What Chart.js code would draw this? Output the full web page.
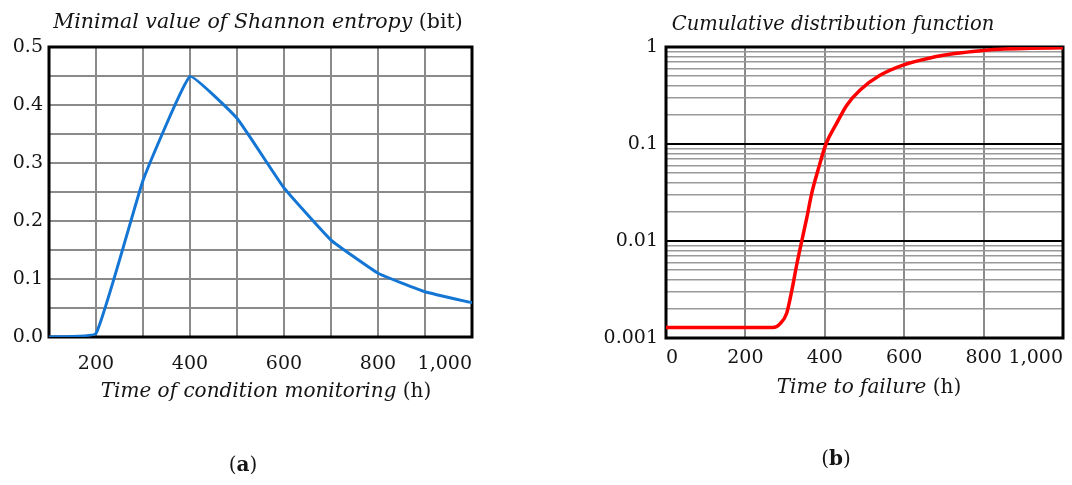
<!DOCTYPE html>
<html>
<head>
<meta charset="utf-8">
<script src="https://cdn.jsdelivr.net/npm/chart.js@4.4.1/dist/chart.umd.min.js"></script>
<style>
  html, body { margin: 0; padding: 0; background: #fff; }
  .panel { position: absolute; left: 0; top: 0; width: 1072px; height: 485px; }
</style>
</head>
<body>
<div class="panel"><canvas id="entropy" width="1072" height="485"></canvas></div>
<div class="panel"><canvas id="cdf" width="1072" height="485"></canvas></div>
<script>
// (a) minimal Shannon entropy vs. monitoring time
const monitoringHours = [100, 200, 300, 400, 500, 600, 700, 800, 900, 1000];
const minEntropy = [0.0, 0.006, 0.27, 0.449, 0.377, 0.257, 0.167, 0.11, 0.078, 0.059];

// (b) cumulative distribution function of time to failure
const failureHours = [0, 100, 200, 270, 287, 304, 317, 330, 342, 355, 367, 383, 403, 430, 455, 489, 539, 597, 665, 723, 773, 841, 920, 1000];
const cdfValues = [0.00128, 0.00128, 0.00128, 0.00128, 0.0014, 0.0018, 0.0031, 0.0059, 0.01, 0.0176, 0.031, 0.054, 0.1, 0.164, 0.25, 0.36, 0.51, 0.65, 0.77, 0.85, 0.9, 0.95, 0.97, 0.98];
const logTickValues = [0.001, 0.01, 0.1].flatMap(d => [1, 2, 3, 4, 5, 6, 7, 8, 9].map(m => +(m * d).toPrecision(2))).concat([1]);

const FONT = '"DejaVu Serif", "Liberation Serif", serif';
const INK = '#141414';
const GRID = '#8a8a8a';

// draws the framed plot box and titles that mix italic and upright runs
const decorations = {
  id: 'decorations',
  beforeDatasetsDraw(chart) {
    const { ctx, chartArea: a } = chart;
    ctx.save();
    ctx.strokeStyle = '#000';
    ctx.lineWidth = 3;
    ctx.strokeRect(a.left, a.top, a.right - a.left, a.bottom - a.top);
    ctx.restore();
  },
  afterDraw(chart, args, opts) {
    const ctx = chart.ctx;
    ctx.save();
    ctx.fillStyle = INK;
    ctx.textBaseline = 'middle';
    ctx.textAlign = 'left';
    for (const item of opts.items || []) {
      const fonts = item.parts.map(p => `${p.italic ? 'italic ' : ''}${p.bold ? 'bold ' : ''}${item.size}px ${FONT}`);
      const widths = item.parts.map((p, i) => { ctx.font = fonts[i]; return ctx.measureText(p.text).width; });
      let x = item.x - widths.reduce((s, w) => s + w, 0) / 2;
      item.parts.forEach((p, i) => {
        ctx.font = fonts[i];
        ctx.fillText(p.text, x, item.y);
        x += widths[i];
      });
    }
    ctx.restore();
  }
};

const isDecade = v => Math.abs(Math.log10(v) - Math.round(Math.log10(v))) < 1e-6;

new Chart(document.getElementById('entropy'), {
  type: 'line',
  data: {
    datasets: [{
      data: monitoringHours.map((h, i) => ({ x: h, y: minEntropy[i] })),
      borderColor: '#1476d4',
      borderWidth: 3,
      pointRadius: 0,
      tension: 0.1,
      fill: false,
    }],
  },
  options: {
    responsive: false,
    animation: false,
    events: [],
    layout: { padding: { left: 0, top: 47, right: 600, bottom: 108 } },
    plugins: {
      legend: { display: false },
      tooltip: { enabled: false },
      decorations: {
        items: [
          { x: 258, y: 23, size: 20.5, parts: [{ text: 'Minimal value of Shannon entropy', italic: true }, { text: ' (bit)' }] },
          { x: 266, y: 392, size: 20, parts: [{ text: 'Time of condition monitoring', italic: true }, { text: ' (h)' }] },
          { x: 243, y: 466, size: 20, parts: [{ text: '(' }, { text: 'a', bold: true }, { text: ')' }] },
        ],
      },
    },
    scales: {
      x: {
        type: 'linear',
        min: 100,
        max: 1000,
        afterFit: s => { s.height = 40; },
        grid: { color: GRID, lineWidth: 2, drawTicks: false },
        border: { display: false },
        ticks: {
          stepSize: 100,
          padding: 16,
          align: 'inner',
          maxRotation: 0,
          autoSkip: false,
          color: INK,
          font: { family: FONT, size: 19 },
          callback: v => (v % 200 === 0 ? v.toLocaleString('en-US') : ''),
        },
      },
      y: {
        min: 0,
        max: 0.5,
        afterFit: s => { s.width = 49; },
        grid: { color: GRID, lineWidth: 2, drawTicks: false },
        border: { display: false },
        ticks: {
          stepSize: 0.05,
          padding: 6,
          autoSkip: false,
          color: INK,
          font: { family: FONT, size: 19 },
          callback: (v, i) => (i % 2 === 0 ? v.toFixed(1) : ''),
        },
      },
    },
  },
  plugins: [decorations],
});

new Chart(document.getElementById('cdf'), {
  type: 'line',
  data: {
    datasets: [{
      data: failureHours.map((h, i) => ({ x: h, y: cdfValues[i] })),
      borderColor: '#ff0000',
      borderWidth: 3.5,
      pointRadius: 0,
      cubicInterpolationMode: 'monotone',
      fill: false,
    }],
  },
  options: {
    responsive: false,
    animation: false,
    events: [],
    layout: { padding: { left: 566, top: 47, right: 9, bottom: 107 } },
    plugins: {
      legend: { display: false },
      tooltip: { enabled: false },
      decorations: {
        items: [
          { x: 833, y: 25, size: 19.5, parts: [{ text: 'Cumulative distribution function', italic: true }] },
          { x: 869, y: 388, size: 20, parts: [{ text: 'Time to failure', italic: true }, { text: ' (h)' }] },
          { x: 836, y: 460, size: 20, parts: [{ text: '(' }, { text: 'b', bold: true }, { text: ')' }] },
        ],
      },
    },
    scales: {
      x: {
        type: 'linear',
        min: 0,
        max: 1000,
        afterFit: s => { s.height = 40; },
        grid: { color: GRID, lineWidth: 2, drawTicks: false },
        border: { display: false },
        ticks: {
          stepSize: 200,
          padding: 9,
          align: 'inner',
          maxRotation: 0,
          autoSkip: false,
          color: INK,
          font: { family: FONT, size: 19 },
          callback: v => v.toLocaleString('en-US'),
        },
      },
      y: {
        type: 'logarithmic',
        min: 0.001,
        max: 1,
        afterFit: s => { s.width = 100; },
        afterBuildTicks: s => { s.ticks = logTickValues.map(value => ({ value })); },
        grid: {
          drawTicks: false,
          color: c => (c.tick && isDecade(c.tick.value) ? '#000' : '#999'),
          lineWidth: c => (c.tick && isDecade(c.tick.value) ? 2 : 1.5),
        },
        border: { display: false },
        ticks: {
          padding: 8,
          autoSkip: false,
          color: INK,
          font: { family: FONT, size: 19 },
          callback: v => (isDecade(v) ? String(+v.toPrecision(1)) : ''),
        },
      },
    },
  },
  plugins: [decorations],
});
</script>
</body>
</html>
